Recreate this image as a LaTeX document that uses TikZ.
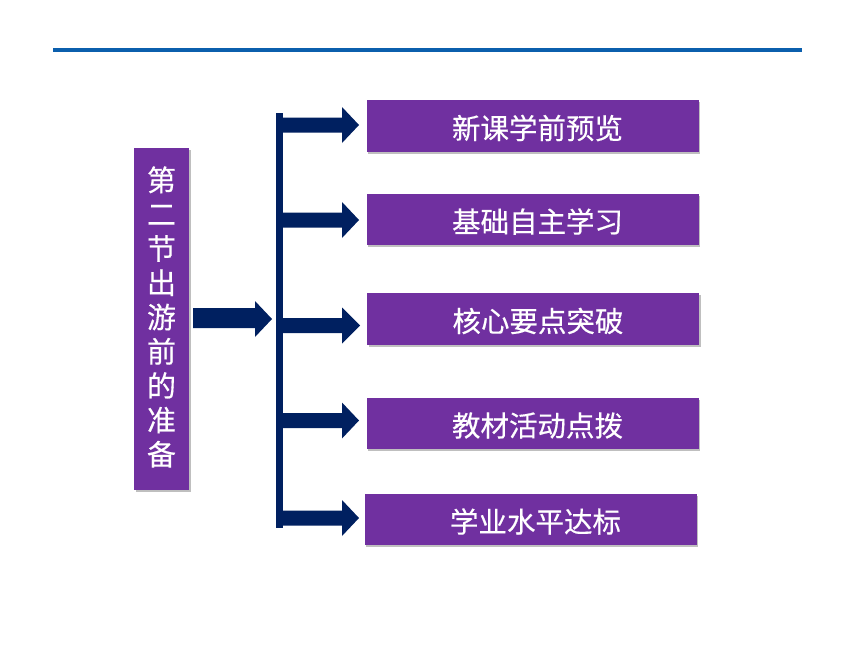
\documentclass[tikz,border=0pt]{standalone}
\usepackage{fontspec}
\newfontfamily\cjk[FakeBold=0.4]{Noto Sans CJK SC}
\usetikzlibrary{shadows}
\definecolor{pur}{HTML}{7030A0}
\definecolor{navy}{HTML}{002060}
\definecolor{topblue}{HTML}{0B5FAD}
\tikzset{
  box/.style={fill=pur, draw=none, drop shadow={shadow xshift=1.5pt, shadow yshift=-2pt, opacity=0.5, fill=black!50}},
  boxtext/.style={text=white, font=\cjk\fontsize{28.5}{30}\selectfont},
  fat/.style={fill=navy, draw=none},
}
\begin{document}
\begin{tikzpicture}[x=1pt,y=-1pt]
\useasboundingbox (0,0) rectangle (860,645);
\fill[white] (0,0) rectangle (860,645);
% top rule
\draw[topblue, line width=4pt] (53,50) coordinate (r1) -- (802,50) coordinate (r2);
% left box
\node[box, minimum width=55pt, minimum height=342pt, inner sep=0pt] (left) at (161.5,319) {};
\node[text=white, font=\cjk\fontsize{29}{34.3}\selectfont, align=center] (lefttext) at (161.5,317)
  {第\\二\\节\\出\\游\\前\\的\\准\\备};
% right boxes
\foreach \n/\x/\y/\t in {1/532.5/126/新课学前预览, 2/532.5/219.5/基础自主学习, 3/533/319/核心要点突破, 4/532.5/423.5/教材活动点拨, 5/530.5/519.5/学业水平达标}{
  \node[box, minimum width=332pt, minimum height=51.5pt, inner sep=0pt] (b\n) at (\x,\y) {};
  \node[boxtext] (t\n) at ([xshift=5pt,yshift=-2pt]b\n.center) {\t};
}
% vertical bar
\fill[fat] (276,113) rectangle (283,528);
\coordinate (bartop) at (279.5,113);
\coordinate (barbot) at (279.5,528);
% left arrow
\fill[fat] (193,308) -- (255,308) -- (255,301) -- (272,319) -- (255,337) -- (255,328) -- (193,328) -- cycle;
% branch arrows
\foreach \n/\yc/\tip in {1/125/359, 2/220/359, 3/325.5/360, 4/420.5/359, 5/518/359}{
  \fill[fat] (283,\yc-7.5) -- (342,\yc-7.5) -- (342,\yc-18) -- (\tip,\yc) -- (342,\yc+18) -- (342,\yc+7.5) -- (283,\yc+7.5) -- cycle;
}
\end{tikzpicture}
\end{document}
